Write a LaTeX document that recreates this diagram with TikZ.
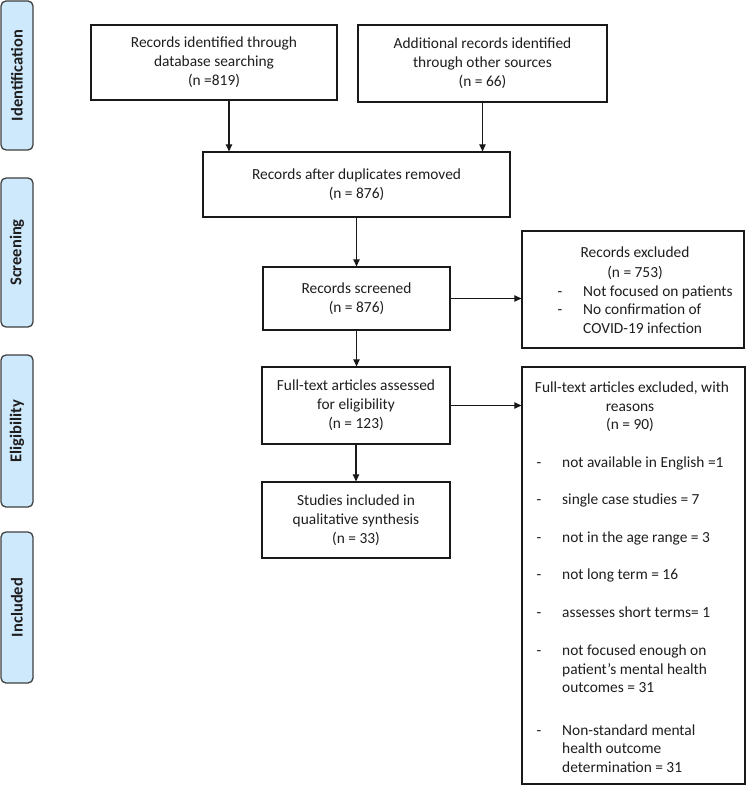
\documentclass[tikz,border=0pt]{standalone}
\usepackage{fontspec}
\setmainfont{Carlito}
\usetikzlibrary{arrows.meta}
\definecolor{sideblue}{RGB}{206,232,252}
\definecolor{txtc}{RGB}{30,30,30}
\begin{document}
\begin{tikzpicture}[x=1pt,y=-1pt,
  box/.style={draw=black!90, line width=1.3pt, inner sep=0pt, align=center,
    font=\fontsize{15.4}{18.8}\selectfont, text=txtc},
  side/.style={draw=black!75, fill=sideblue, line width=1.3pt, rounded corners=5pt,
    minimum height=32pt, rotate=90, inner sep=0pt,
    font=\fontsize{16.5}{19}\selectfont\bfseries, text=txtc},
  txt/.style={inner sep=0pt, font=\fontsize{15.4}{18.8}\selectfont, text=txtc,
    text height=10pt, text depth=0pt},
  arr/.style={draw=black!90, line width=1.1pt, -{Triangle[length=7pt,width=6.5pt]}}]
\useasboundingbox (0,0) rectangle (750,786);
\fill[white] (0,0) rectangle (750,786);

% side labels
\node[side, minimum width=149pt] (sid) at (17,75.5) {Identification};
\node[side, minimum width=149pt] (sscr) at (17,252.5) {Screening};
\node[side, minimum width=152pt] (seli) at (17,431) {Eligibility};
\node[side, minimum width=151pt] (sinc) at (17,607.5) {Included};

% main boxes
\node[box, minimum width=246pt, minimum height=75pt] (b1) at (214,62.5)
  {Records identified through\\database searching\\(n =819)};
\node[box, minimum width=249pt, minimum height=77pt] (b2) at (482.5,63.5)
  {Additional records identified\\through other sources\\(n = 66)};
\node[box, minimum width=307pt, minimum height=65pt] (b3) at (356.5,184.5)
  {Records after duplicates removed\\(n = 876)};
\node[box, minimum width=187pt, minimum height=63pt] (b4) at (356.5,298.5)
  {Records screened\\(n = 876)};
\node[box, minimum width=188pt, minimum height=77pt] (b5) at (356,405.5)
  {Full-text articles assessed\\for eligibility\\(n = 123)};
\node[box, minimum width=188pt, minimum height=76pt] (b7) at (356,520)
  {Studies included in\\qualitative synthesis\\(n = 33)};
\node[box, minimum width=222pt, minimum height=117pt] (ex) at (633,289.5) {};
\node[box, minimum width=223pt, minimum height=417pt] (b6) at (633.5,575.5) {};

% records excluded text
\node[txt] (e1) at (635,252) {Records excluded};
\node[txt] (e2) at (635,272) {(n = 753)};
\node[txt] (e3d) at (560,291) {-};
\node[txt, anchor=west] (e3) at (583,291) {Not focused on patients};
\node[txt] (e4d) at (560,309.5) {-};
\node[txt, anchor=west] (e4) at (583,309.5) {No confirmation of};
\node[txt, anchor=west] (e5) at (583,328) {COVID-19 infection};

% full-text excluded text
\node[txt] (f1) at (632,387) {Full-text articles excluded, with};
\node[txt] (f2) at (630,406) {reasons};
\node[txt] (f3) at (630,424.5) {(n = 90)};
\node[txt] (g1d) at (539,462) {-};
\node[txt, anchor=west] (g1) at (562,462) {not available in English =1};
\node[txt] (g2d) at (539,499.6) {-};
\node[txt, anchor=west] (g2) at (562,499.6) {single case studies = 7};
\node[txt] (g3d) at (539,537.2) {-};
\node[txt, anchor=west] (g3) at (562,537.2) {not in the age range = 3};
\node[txt] (g4d) at (539,574.8) {-};
\node[txt, anchor=west] (g4) at (562,574.8) {not long term = 16};
\node[txt] (g5d) at (539,612.4) {-};
\node[txt, anchor=west] (g5) at (562,612.4) {assesses short terms= 1};
\node[txt] (g6d) at (539,650.5) {-};
\node[txt, anchor=west] (g6a) at (562,650.5) {not focused enough on};
\node[txt, anchor=west] (g6b) at (562,669.1) {patient’s mental health};
\node[txt, anchor=west] (g6c) at (562,687.7) {outcomes = 31};
\node[txt] (g7d) at (539,730) {-};
\node[txt, anchor=west] (g7a) at (562,730) {Non-standard mental};
\node[txt, anchor=west] (g7b) at (562,748.6) {health outcome};
\node[txt, anchor=west] (g7c) at (562,767.2) {determination = 31};

% connectors
\draw[arr] ([xshift=15pt]b1.south) -- ([xshift=15pt]b1.south |- b3.north);
\draw[arr] (b2.south) -- (b2.south |- b3.north);
\draw[arr] (b3.south) -- (b3.south |- b4.north);
\draw[arr] (b4.south) -- (b4.south |- b5.north);
\draw[arr] (b5.south) -- (b5.south |- b7.north);
\draw[arr] (b4.east) -- (b4.east -| ex.west);
\draw[arr] (b5.east) -- (b5.east -| b6.west);
\end{tikzpicture}
\end{document}
